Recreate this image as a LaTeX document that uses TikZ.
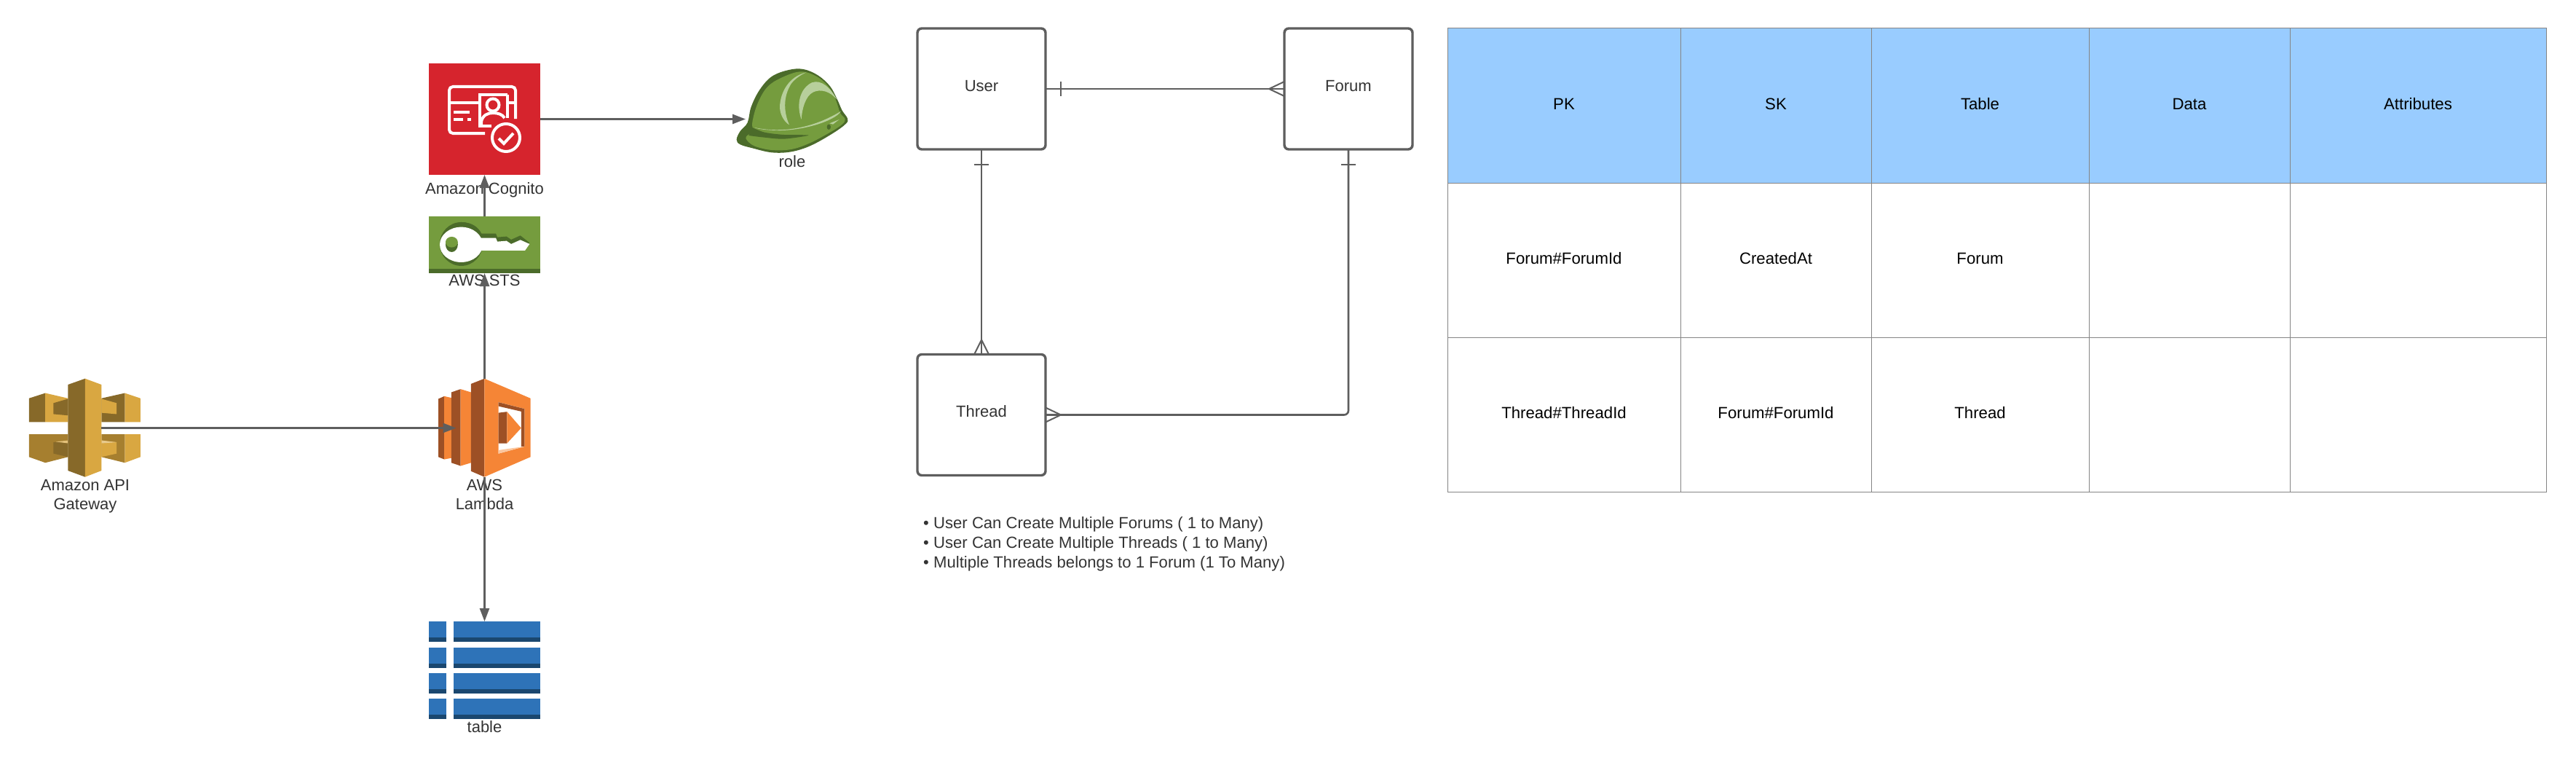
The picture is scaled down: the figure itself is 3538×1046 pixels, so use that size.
\documentclass[tikz,border=0pt]{standalone}
\usepackage{fontspec}
\setmainfont{Liberation Sans}
\usetikzlibrary{arrows.meta,calc}
\definecolor{linegray}{HTML}{5E5E5E}
\definecolor{txt}{HTML}{333333}
\definecolor{gridgray}{HTML}{858585}
\definecolor{headblue}{HTML}{99CCFF}
\definecolor{gold}{HTML}{D9A741}
\definecolor{golddark}{HTML}{876929}
\definecolor{goldmid}{HTML}{A67F2F}
\definecolor{orange}{HTML}{F58536}
\definecolor{orangedark}{HTML}{9D5025}
\definecolor{orangepale}{HTML}{FBC79F}
\definecolor{awsred}{HTML}{D6242D}
\definecolor{awsgreen}{HTML}{759C3E}
\definecolor{awsgreendark}{HTML}{4B6B2A}
\definecolor{awsgreenpale}{HTML}{B7CF9B}
\definecolor{dbblue}{HTML}{2E73B8}
\definecolor{dbdark}{HTML}{1A476F}
\tikzset{
  lbl/.style={anchor=base,inner sep=0pt,text=txt,font=\fontsize{22}{27}\selectfont},
  iconbox/.style={inner sep=0pt,minimum width=#1,outer sep=0pt},
  flow/.style={draw=linegray,line width=2.6pt,-{Triangle[length=18pt,width=13pt]}},
  erbox/.style={draw=linegray,line width=3.4pt,rounded corners=6pt,minimum width=176pt,minimum height=166pt,inner sep=0pt,
    font=\fontsize{22}{27}\selectfont,text=txt,text height=12pt,text depth=6pt,outer sep=0pt},
  erline/.style={draw=linegray,line width=2.6pt},
  ermark/.style={draw=linegray,line width=2pt},
  cell/.style={draw=gridgray,line width=1pt,inner sep=0pt,outer sep=0pt,font=\fontsize{22.2}{27}\selectfont,text=black,text height=17pt,text depth=6pt},
  head/.style={cell,fill=headblue},
  whiteline/.style={draw=white,line width=4pt},
  bul/.style={anchor=base west,inner sep=0pt,text=txt,font=\fontsize{22.1}{27}\selectfont}
}
\begin{document}
\begin{tikzpicture}[x=1pt,y=-1pt]
\useasboundingbox (0,0) rectangle (3538,1046);
\fill[white] (0,0) rectangle (3538,1046);

% ---------- icon anchor nodes
\node[iconbox=44pt,minimum height=135pt] (api) at (117,587.5) {};
\node[iconbox=127pt,minimum height=135pt] (lambda) at (665.5,587.5) {};
\node[iconbox=153pt,minimum height=153pt,fill=awsred] (cognito) at (665.5,163.5) {};
\node[iconbox=153pt,minimum height=78pt,fill=awsgreen] (sts) at (665.5,336) {};
\node[iconbox=153pt,minimum height=133pt] (dbtable) at (665.5,919.5) {};
\node[iconbox=128pt,minimum height=120pt] (role) at (1088,163.5) {};
\coordinate (lambdain) at (626.5,587.5);

% ---------- API Gateway
\begin{scope}[shift={(0,480)},xscale=0.5102,yscale=0.361]
  \fill[golddark] (78,185)--(122,165)--(122,275)--(78,275)--cycle;
  \fill[gold] (122,165)--(183,185)--(183,275)--(122,275)--cycle;
  \fill[golddark] (144,203)--(183,187)--(183,250)--(144,245)--cycle;
  \fill[gold] (378,185)--(336,165)--(336,275)--(378,275)--cycle;
  \fill[golddark] (336,165)--(273,185)--(273,275)--(336,275)--cycle;
  \fill[gold] (314,203)--(273,187)--(273,240)--(314,245)--cycle;
  \fill[goldmid] (78,322)--(122,322)--(122,430)--(78,408)--cycle;
  \fill[goldmid] (122,322)--(183,322)--(183,408)--(122,430)--cycle;
  \fill[golddark] (144,352)--(183,345)--(183,408)--(144,395)--cycle;
  \fill[gold!70!white] (150,350)--(183,345)--(183,356)--cycle;
  \fill[gold] (378,322)--(336,322)--(336,430)--(378,408)--cycle;
  \fill[goldmid] (336,322)--(273,322)--(273,408)--(336,430)--cycle;
  \fill[gold] (314,352)--(273,345)--(273,408)--(314,395)--cycle;
  \fill[gold!60!white] (273,345)--(314,352)--(273,356)--cycle;
  \fill[golddark] (183,133)--(229,110)--(229,484)--(183,460)--cycle;
  \fill[gold] (229,110)--(273,133)--(273,460)--(229,484)--cycle;
\end{scope}

% ---------- Lambda
\begin{scope}[shift={(0,480)},xscale=0.5102,yscale=0.361]
  \fill[orangedark] (1180,187)--(1196,177)--(1196,417)--(1180,408)--cycle;
  \fill[orange] (1196,177)--(1215,183)--(1215,412)--(1196,417)--cycle;
  \fill[orangedark] (1215,162)--(1240,150)--(1240,442)--(1215,430)--cycle;
  \fill[orange] (1240,150)--(1268,162)--(1268,430)--(1240,442)--cycle;
  \fill[orangedark] (1268,130)--(1304,110)--(1304,484)--(1268,462)--cycle;
  \fill[orange] (1304,110)--(1428,185)--(1428,408)--(1304,484)--cycle;
  \fill[white] (1342,200)--(1412,225)--(1412,368)--(1342,395)--cycle;
  \fill[orangedark] (1342,200)--(1412,225)--(1412,368)--(1403,368)--(1403,235)--(1342,215)--cycle;
  \fill[orangepale] (1342,382)--(1412,368)--(1342,395)--cycle;
  \fill[orangedark] (1342,240)--(1365,236)--(1365,356)--(1342,356)--cycle;
  \fill[orange] (1365,236)--(1403,298)--(1365,356)--cycle;
\end{scope}

% ---------- Cognito glyph
\draw[whiteline,line cap=butt,rounded corners=5pt] (666,183)--(617,183)--(617,119)--(708,119)--(708,163);
\draw[whiteline] (617,141)--(659,141);
\draw[whiteline] (696,141)--(708,141);
\draw[whiteline] (697,130)--(697,162);
\draw[whiteline] (697,130)--(659,130)--(659,173)--(675,173);
\draw[whiteline] (677,144) circle (8.5pt);
\draw[whiteline] (661,173)--(661,167) .. controls (663,158) and (670,155) .. (677,155) .. controls (684,155) and (690,157) .. (693,162);
\draw[whiteline] (623,154)--(645,154);
\draw[whiteline] (623,164)--(636,164);
\draw[whiteline] (642,164)--(647,164);
\draw[whiteline] (695,189) circle (19pt);
\draw[whiteline] (685,190)--(692,197)--(705,183);

% ---------- STS glyph
\fill[awsgreendark] (589,369) rectangle (742,375);
\begin{scope}[shift={(540,60)},xscale=0.4209,yscale=0.3333]
  \fill[awsgreendark] (222,735) .. controls (260,735) and (280,760) .. (288,782) -- (335,782)--(340,797)--(370,794)--(385,807)--(415,790)--(445,820)--(430,840)--(222,840)--cycle;
  \fill[awsgreendark] (222,825) ellipse [x radius=70,y radius=90];
  \fill[white] (222,827.5) ellipse [x radius=70,y radius=72.5];
  \fill[white] (250,800)--(288,800)--(335,800)--(340,815)--(370,812)--(385,825)--(415,808)--(445,825)--(430,852)--(250,852)--cycle;
  \fill[awsgreendark] (191,827) ellipse [x radius=20,y radius=31];
  \fill[awsgreen] (191,817) ellipse [x radius=20,y radius=22];
\end{scope}

% ---------- Helmet
\begin{scope}[shift={(1000,80)},scale=0.3333]
  \fill[awsgreendark] plot[smooth cycle,tension=0.6] coordinates {(35,335)(50,300)(80,265)(95,200)(130,130)(180,75)(250,48)(310,45)(370,70)(420,115)(450,170)(470,215)(492,248)(485,270)(430,310)(340,360)(260,385)(180,388)(100,370)(50,355)};
  \fill[awsgreen] plot[smooth cycle,tension=0.6] coordinates {(100,262)(120,190)(160,120)(220,80)(300,55)(370,78)(420,125)(445,175)(462,225)(482,250)(470,272)(420,305)(335,350)(260,375)(180,378)(110,362)(78,338)(75,322)(100,300)};
  \fill[awsgreendark] plot[smooth,tension=0.5] coordinates {(85,318)(140,325)(230,332)(332,317)(230,315)(150,305)(100,285)} -- cycle;
  \fill[awsgreenpale] (108,285) .. controls (200,305) and (330,300) .. (465,218) .. controls (440,260) and (300,300) .. (200,297) .. controls (160,296) and (125,292) .. (108,285) -- cycle;
  \fill[awsgreenpale] (322,58) .. controls (250,75) and (215,140) .. (213,200) .. controls (213,235) and (235,265) .. (252,274) .. controls (230,225) and (225,160) .. (260,105) .. controls (275,85) and (300,68) .. (322,58) -- cycle;
  \fill[awsgreenpale] (302,252) .. controls (280,190) and (295,125) .. (345,100) .. controls (385,85) and (425,125) .. (448,170) .. controls (420,135) and (380,125) .. (350,140) .. controls (320,155) and (305,205) .. (302,252) -- cycle;
  \fill[awsgreenpale] (418,268)--(458,252)--(432,272)--cycle;
  \fill[awsgreendark] (415,283) ellipse [x radius=8,y radius=11];
\end{scope}

% ---------- DynamoDB table glyph
\foreach \yt in {853,888.5,924,959}{
  \fill[dbblue] (589,\yt) rectangle (613,\yt+22);
  \fill[dbdark] (589,\yt+22) rectangle (613,\yt+28);
  \fill[dbblue] (623,\yt) rectangle (742,\yt+22);
  \fill[dbdark] (623,\yt+22) rectangle (742,\yt+28);
}

% ---------- labels
\node[lbl] (apil1) at (117,673) {Amazon API};
\node[lbl] (apil2) at (117,699.5) {Gateway};
\node[lbl] (laml1) at (665.5,673) {AWS};
\node[lbl] (laml2) at (665.5,699.5) {Lambda};
\node[lbl] (cogl) at (665.5,266.7) {Amazon Cognito};
\node[lbl] (stsl) at (665.5,392.7) {AWS STS};
\node[lbl] (rolel) at (1088,229.5) {role};
\node[lbl] (tabl) at (665.5,1005.5) {table};

% ---------- AWS connectors
\draw[flow] (sts.north) -- (cognito.south);
\draw[flow] (lambda.north) -- (sts.south);
\draw[flow] (lambda.south) -- (dbtable.north);
\draw[flow] (api.east) -- (lambdain);
\draw[flow] (cognito.east) -- (role.west);

% ---------- ER diagram
\node[erbox] (user) at (1348,122) {User};
\node[erbox] (forum) at (1852,122) {Forum};
\node[erbox] (thread) at (1348,569.5) {Thread};
\draw[erline] (user.east) -- (forum.west);
\draw[erline] (user.south) -- (thread.north);
\draw[erline,rounded corners=6pt] (thread.east) -| (forum.south);
\draw[ermark] ($(user.east)+(21,-10)$) -- ($(user.east)+(21,10)$);
\draw[ermark] ($(forum.west)+(0,-10)$) -- ($(forum.west)+(-21,0)$) -- ($(forum.west)+(0,10)$);
\draw[ermark] ($(user.south)+(-10,21)$) -- ($(user.south)+(10,21)$);
\draw[ermark] ($(thread.north)+(-10,0)$) -- ($(thread.north)+(0,-20)$) -- ($(thread.north)+(10,0)$);
\draw[ermark] ($(forum.south)+(-10,21)$) -- ($(forum.south)+(10,21)$);
\draw[ermark] ($(thread.east)+(0,-10)$) -- ($(thread.east)+(21,0)$) -- ($(thread.east)+(0,10)$);

% ---------- notes
\node[bul] (b1) at (1268,725) {\makebox[14pt][l]{•}User Can Create Multiple Forums ( 1 to Many)};
\node[bul] (b2) at (1268,752) {\makebox[14pt][l]{•}User Can Create Multiple Threads ( 1 to Many)};
\node[bul] (b3) at (1268,779) {\makebox[14pt][l]{•}Multiple Threads belongs to 1 Forum (1 To Many)};

% ---------- table
\node[head,minimum width=320pt,minimum height=212pt] (h1) at (2148,145) {PK};
\node[head,minimum width=262pt,minimum height=212pt] (h2) at (2439,145) {SK};
\node[head,minimum width=299pt,minimum height=212pt] (h3) at (2719.5,145) {Table};
\node[head,minimum width=276pt,minimum height=212pt] (h4) at (3007,145) {Data};
\node[head,minimum width=352pt,minimum height=212pt] (h5) at (3321,145) {Attributes};
\node[cell,minimum width=320pt,minimum height=212pt] (r11) at (2148,357) {Forum\#ForumId};
\node[cell,minimum width=262pt,minimum height=212pt] (r12) at (2439,357) {CreatedAt};
\node[cell,minimum width=299pt,minimum height=212pt] (r13) at (2719.5,357) {Forum};
\node[cell,minimum width=276pt,minimum height=212pt] (r14) at (3007,357) {};
\node[cell,minimum width=352pt,minimum height=212pt] (r15) at (3321,357) {};
\node[cell,minimum width=320pt,minimum height=212pt] (r21) at (2148,569) {Thread\#ThreadId};
\node[cell,minimum width=262pt,minimum height=212pt] (r22) at (2439,569) {Forum\#ForumId};
\node[cell,minimum width=299pt,minimum height=212pt] (r23) at (2719.5,569) {Thread};
\node[cell,minimum width=276pt,minimum height=212pt] (r24) at (3007,569) {};
\node[cell,minimum width=352pt,minimum height=212pt] (r25) at (3321,569) {};
\end{tikzpicture}
\end{document}
